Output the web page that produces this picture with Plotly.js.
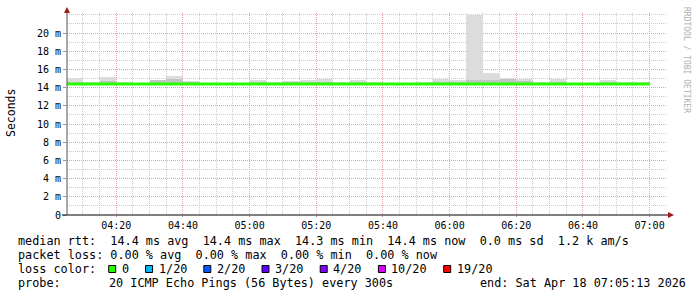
<!DOCTYPE html>
<html><head><meta charset="utf-8">
<script src="https://cdn.plot.ly/plotly-3.0.1.min.js"></script>
<style>html,body{margin:0;padding:0;background:#fff}#chart{width:697px;height:297px}</style>
</head><body><div id="chart"></div>
<script>
// ---- data ----
const binStarts = ['04:05','04:10','04:15','04:20','04:25','04:30','04:35','04:40','04:45','04:50',
  '04:55','05:00','05:05','05:10','05:15','05:20','05:25','05:30','05:35','05:40',
  '05:45','05:50','05:55','06:00','06:05','06:10','06:15','06:20','06:25','06:30',
  '06:35','06:40','06:45','06:50','06:55'];
const medianRtt = [14.4,14.4,14.4,14.4,14.4,14.4,14.4,14.4,14.4,14.4,
  14.4,14.4,14.4,14.4,14.4,14.4,14.4,14.4,14.4,14.4,
  14.4,14.4,14.4,14.4,14.4,14.4,14.4,14.4,14.4,14.4,
  14.4,14.4,14.4,14.4,14.4];
const smokeMin = [14.3,14.3,14.3,14.3,14.3,14.3,14.3,14.3,14.3,14.3,
  14.3,14.3,14.3,14.3,14.3,14.3,14.3,14.3,14.3,14.3,
  14.3,14.3,14.3,14.3,14.3,14.3,14.3,14.3,14.3,14.3,
  14.3,14.3,14.3,14.3,14.3];
const smokeCore = [14.6,14.5,14.7,14.5,14.5,14.8,14.9,14.6,14.5,14.5,
  14.5,14.6,14.5,14.6,14.6,14.6,14.5,14.6,14.5,14.5,
  14.5,14.5,14.6,14.6,14.8,14.8,14.9,14.7,14.5,14.6,
  14.5,14.5,14.6,14.5,14.5];
const smokeMax = [15.1,14.6,15.2,14.6,14.5,14.8,15.3,14.7,14.5,14.5,
  14.5,14.8,14.6,14.7,14.8,14.9,14.6,14.8,14.6,14.5,
  14.5,14.6,14.9,14.8,22.0,15.6,15.1,15.0,14.6,14.9,
  14.5,14.5,14.8,14.6,14.6];
const yTickVals = [0,2,4,6,8,10,12,14,16,18,20];
const yTickText = ['0','2 m','4 m','6 m','8 m','10 m','12 m','14 m','16 m','18 m','20 m'];
const lossLabels = ['0','1/20','2/20','3/20','4/20','10/20','19/20'];
const lossColors = ['#26ff00','#00b8ff','#0059ff','#5e00ff','#7e00ff','#dd00ff','#ff0000'];
const statsLine = 'median rtt:  14.4 ms avg  14.4 ms max  14.3 ms min  14.4 ms now  0.0 ms sd  1.2 k am/s';
const lossLine = 'packet loss: 0.00 % avg  0.00 % max  0.00 % min  0.00 % now';
const probeText = '20 ICMP Echo Pings (56 Bytes) every 300s';
const endText = 'end: Sat Apr 18 07:05:13 2026';
const rangeStart = '2026-04-18 04:05:13';
const rangeEnd = '2026-04-18 07:05:13';
const STEP_MS = 300000;

// ---- helpers ----
function tms(t){ const [h,m]=t.split(':').map(Number); return Date.UTC(2026,3,18,h,m,0); }
function fmt(ms){ return new Date(ms).toISOString().replace('T',' ').slice(0,19); }
const L=67, T=13, PW=600, PH=202;
const px = x => (x-L)/PW;
const py = y => (T+PH-y)/PH;
const MONO = 'DejaVu Sans Mono';

const centers = binStarts.map(t => fmt(tms(t)+STEP_MS/2));
const lineX = binStarts.map(t => fmt(tms(t))).concat([fmt(tms(binStarts[binStarts.length-1])+STEP_MS)]);
const lineY = medianRtt.concat([medianRtt[medianRtt.length-1]]);

const traces = [
  {type:'bar', x:centers, y:smokeMax.map((v,i)=>v-smokeMin[i]), base:smokeMin, width:STEP_MS,
   marker:{color:'#dcdcdc', line:{width:0}}, hoverinfo:'skip', showlegend:false},
  {type:'bar', x:centers, y:smokeCore.map((v,i)=>v-smokeMin[i]), base:smokeMin, width:STEP_MS,
   marker:{color:'#c4c4c4', line:{width:0}}, hoverinfo:'skip', showlegend:false},
  {type:'scatter', mode:'lines', x:lineX, y:lineY, line:{shape:'hv', color:lossColors[0], width:3},
   hoverinfo:'skip', showlegend:false}
];

const annotations = [];
const shapes = [];
function txt(x,y,text,opts){
  annotations.push(Object.assign({xref:'paper',yref:'paper',x:px(x),y:py(y),text:text,showarrow:false,
    xanchor:'left',yanchor:'middle',font:{family:MONO,size:11.8,color:'#000'}},opts||{}));
}
txt(16,241,statsLine.replace(/ /g,'&nbsp;'));
txt(16,254.5,lossLine.replace(/ /g,'&nbsp;'));
txt(16,269,'loss&nbsp;color:');
txt(16,283.3,'probe:');
txt(107,283.3,probeText.replace(/ /g,'&nbsp;'));
txt(478,283.3,endText.replace(/ /g,'&nbsp;'));
// loss color swatches
let cx = 108.7;
const CW = 7.1;
lossLabels.forEach((lab,i)=>{
  shapes.push({type:'rect',xref:'paper',yref:'paper',x0:px(cx),x1:px(cx+7),y0:py(272.5),y1:py(265.5),
    fillcolor:lossColors[i],line:{color:'#000',width:1},layer:'above'});
  txt(cx+11,269,lab);
  cx += 11 + lab.length*CW + 18.8;
});
// y title
annotations.push({xref:'paper',yref:'paper',x:px(11),y:py(113),text:'Seconds',showarrow:false,
  textangle:-90,xanchor:'center',yanchor:'middle',font:{family:MONO,size:11.5,color:'#000'}});
// watermark
annotations.push({xref:'paper',yref:'paper',x:px(687),y:py(60),text:'RRDTOOL / TOBI OETIKER',showarrow:false,
  textangle:90,xanchor:'center',yanchor:'middle',font:{family:MONO,size:8,color:'#b0b0b0'}});
// axis lines & arrows
shapes.push({type:'line',xref:'paper',yref:'paper',x0:px(67),x1:px(67),y0:py(215),y1:py(10),line:{color:'#555',width:1},layer:'above'});
shapes.push({type:'line',xref:'paper',yref:'paper',x0:px(62),x1:px(669),y0:py(215),y1:py(215),line:{color:'#000',width:1},layer:'above'});
shapes.push({type:'path',xref:'paper',yref:'paper',
  path:`M ${px(64)} ${py(13)} L ${px(70)} ${py(13)} L ${px(67)} ${py(7)} Z`,fillcolor:'#a01818',line:{width:0},layer:'above'});
shapes.push({type:'path',xref:'paper',yref:'paper',
  path:`M ${px(668)} ${py(212)} L ${px(668)} ${py(218)} L ${px(674)} ${py(215)} Z`,fillcolor:'#a01818',line:{width:0},layer:'above'});

const layout = {
  width:697, height:297, margin:{l:L,r:30,t:T,b:82,pad:0},
  paper_bgcolor:'#fff', plot_bgcolor:'#fff', barmode:'overlay', bargap:0, showlegend:false,
  xaxis:{type:'date', range:[rangeStart,rangeEnd], tick0:'2026-04-18 04:00:00', dtick:1200000,
    tickformat:'%H:%M', showgrid:true, gridcolor:'#e8a0a0', griddash:'1px,1px', gridwidth:1,
    minor:{dtick:300000, tick0:'2026-04-18 04:00:00', showgrid:true, gridcolor:'#cccccc', griddash:'1px,1px', gridwidth:1},
    ticks:'outside', ticklen:1, tickcolor:'#999', showline:false, zeroline:false,
    tickfont:{family:MONO,size:10,color:'#000'}, fixedrange:true},
  yaxis:{range:[0,22.2], tickvals:yTickVals, ticktext:yTickText, showgrid:true, gridcolor:'#e8a0a0',
    griddash:'1px,1px', gridwidth:1,
    minor:{dtick:1, tick0:0, showgrid:true, gridcolor:'#cccccc', griddash:'1px,1px', gridwidth:1},
    ticks:'outside', ticklen:3, tickcolor:'#999', showline:false, zeroline:false,
    tickfont:{family:MONO,size:10,color:'#000'}, fixedrange:true},
  annotations:annotations, shapes:shapes, hovermode:false
};
Plotly.newPlot('chart', traces, layout, {staticPlot:true, displayModeBar:false});
</script></body></html>
